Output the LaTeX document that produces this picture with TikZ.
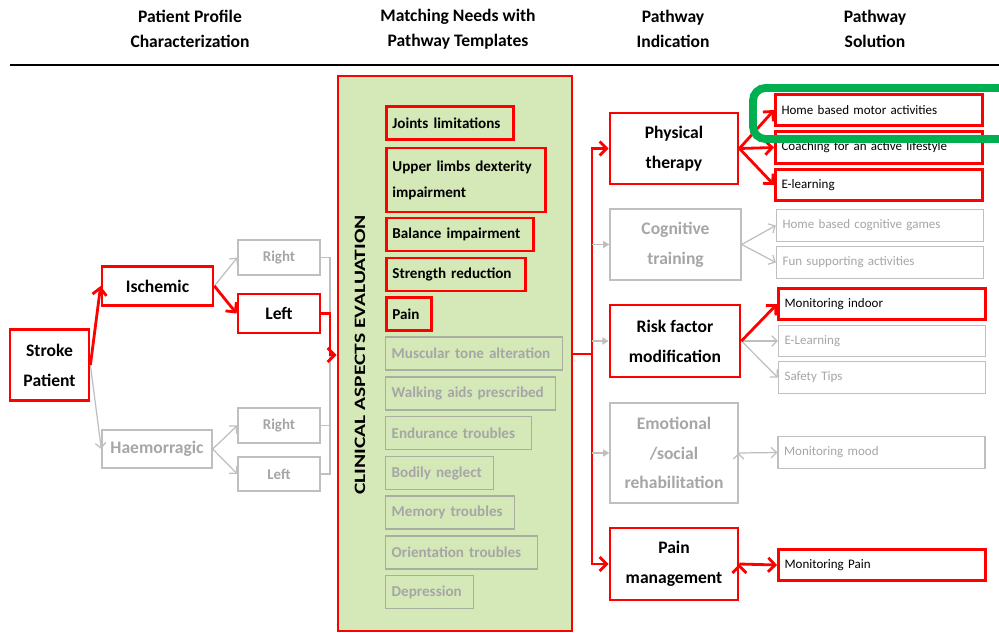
\documentclass[tikz,border=0pt]{standalone}
\usepackage{fontspec}
\setmainfont{Carlito}
\usetikzlibrary{arrows, arrows.meta, shapes}
\definecolor{hlgreen}{RGB}{0,176,80}
\definecolor{boxgreen}{RGB}{212,232,184}
\definecolor{boxgrey}{RGB}{191,191,191}
\definecolor{txtgrey}{RGB}{166,166,166}
\definecolor{itemgrey}{RGB}{168,175,160}
\hyphenpenalty=10000
\exhyphenpenalty=10000

\begin{document}
\begin{tikzpicture}[
    x=0.02cm, y=-0.02cm,
    header/.style={font=\bfseries\fontsize{10}{14.2}\selectfont, align=center},
    pathred/.style={shape=rectangle, draw=red, line width=1.6pt, fill=white, align=center, font=\bfseries\fontsize{10}{17}\selectfont},
    pathgrey/.style={pathred, draw=boxgrey, line width=0.8pt, text=txtgrey},
    itemred/.style={shape=rectangle, draw=red, line width=1.6pt, anchor=west, inner xsep=0.12cm, align=left, minimum height=0.66cm, font=\bfseries\fontsize{8.6}{14.8}\selectfont},
    itemgray/.style={itemred, draw=itemgrey, line width=0.8pt, text=txtgrey},
    solred/.style={shape=rectangle, draw=red, line width=1.6pt, fill=white, text width=3.9cm, inner xsep=0.12cm, minimum height=0.63cm, align=left, font=\fontsize{7.4}{9}\selectfont},
    solgrey/.style={solred, draw=boxgrey, line width=0.8pt, text=txtgrey},
    redline/.style={draw=red, line width=1.6pt},
    greyline/.style={draw=boxgrey, line width=0.7pt},
    redarrow/.style={redline, -{Straight Barb[length=4pt, width=8pt]}},
    greyarrow/.style={greyline, -{Straight Barb[length=3pt, width=6pt]}},
    busarrow/.style={greyline, -{Triangle[length=3.5pt, width=4pt]}},
]

\fill[white] (0,0) rectangle (999,632);
\useasboundingbox (0,0) rectangle (999,632);

% headers
\node[header] (h1) at (190,29) {Patient Profile\\Characterization};
\node[header] (h2) at (458,29) {Matching Needs with\\Pathway Templates};
\node[header] (h3) at (673,29) {Pathway\\Indication};
\node[header] (h4) at (875,29) {Pathway\\Solution};
\draw[line width=1.7pt] (10,65) -- (999,65);

% patient profile
\node[pathred, minimum width=1.58cm, minimum height=1.42cm] (sp) at (49.5,365) {Stroke\\Patient};
\node[pathred, minimum width=2.22cm, minimum height=0.78cm] (isc) at (157.5,286) {Ischemic};
\node[pathgrey, minimum width=2.2cm, minimum height=0.76cm] (hae) at (157,449) {Haemorragic};
\node[pathgrey, minimum width=1.64cm, minimum height=0.7cm, font=\bfseries\fontsize{8.5}{10}\selectfont] (ir) at (279,257.5) {Right};
\node[pathred, minimum width=1.64cm, minimum height=0.78cm] (il) at (279,313.5) {Left};
\node[pathgrey, minimum width=1.64cm, minimum height=0.7cm, font=\bfseries\fontsize{8.5}{10}\selectfont] (hr) at (279,425.5) {Right};
\node[pathgrey, minimum width=1.64cm, minimum height=0.68cm, font=\bfseries\fontsize{8.5}{10}\selectfont] (hl) at (279,474) {Left};

% clinical aspects
\node[shape=rectangle, draw=red, line width=1.6pt, fill=boxgreen, minimum width=4.68cm, minimum height=11.1cm] (clin) at (455,353.5) {};
\node[rotate=90, font=\bfseries\fontsize{9}{11}\selectfont] (cae) at (360,355) {\scalebox{1.36}[1]{CLINICAL ASPECTS EVALUATION}};
\node[itemred, text width=2.3cm] (j1) at (385,123) {Joints limitations};
\node[itemred, text width=2.94cm, minimum height=1.28cm] (j2) at (385,180) {Upper limbs dexterity\\impairment};
\node[itemred, text width=2.7cm] (j3) at (385,234.5) {Balance impairment};
\node[itemred, text width=2.54cm] (j4) at (385,274.5) {Strength reduction};
\node[itemred, text width=0.66cm] (j5) at (385,314) {Pain};
\node[itemgray, text width=3.3cm] (j6) at (385,353.5) {Muscular tone alteration};
\node[itemgray, text width=3.16cm] (j7) at (385,393.5) {Walking aids prescribed};
\node[itemgray, text width=2.68cm] (j8) at (385,433) {Endurance troubles};
\node[itemgray, text width=1.92cm] (j9) at (385,473) {Bodily neglect};
\node[itemgray, text width=2.34cm] (j10) at (385,512.5) {Memory troubles};
\node[itemgray, text width=2.8cm] (j11) at (385,552.5) {Orientation troubles};
\node[itemgray, text width=1.52cm] (j12) at (385,592) {Depression};

% pathway indication
\node[pathred, minimum width=2.56cm, minimum height=1.42cm] (pt) at (674,148.5) {Physical\\therapy};
\node[pathgrey, minimum width=2.62cm, minimum height=1.42cm] (ct) at (675.5,244.5) {Cognitive\\training};
\node[pathred, minimum width=2.6cm, minimum height=1.44cm] (rf) at (675,341) {Risk factor\\modification};
\node[pathgrey, minimum width=2.56cm, minimum height=2cm] (es) at (674,453) {Emotional\\/social\\rehabilitation};
\node[pathred, minimum width=2.56cm, minimum height=1.44cm] (pm) at (674,564) {Pain\\management};

% pathway solution
\node[solred] (s1) at (879,110) {Home based motor activities};
\node[solred] (s2) at (879,147.5) {Coaching for an active lifestyle};
\node[solred] (s3) at (879,185) {E-learning};
\node[solgrey] (s4) at (880,225.5) {Home based cognitive games};
\node[solgrey] (s5) at (880,262.5) {Fun supporting activities};
\node[solred] (s6) at (882,304) {Monitoring indoor};
\node[solgrey] (s7) at (882,341) {E-Learning};
\node[solgrey] (s8) at (882,377.5) {Safety Tips};
\node[solgrey] (s9) at (881.5,452.5) {Monitoring mood};
\node[solred] (s10) at (882,565) {Monitoring Pain};

\coordinate (lbus) at (330,355);
\coordinate (rbus) at (592,354);

\path[greyarrow]
    (sp.east) edge (hae.west)
    (isc.east) edge (ir.west)
    (hae.east) edge (hr.west)
    (hae.east) edge (hl.west)
    (ct.east) edge (s4.west)
    (ct.east) edge (s5.west)
    (rf.east) edge (s7.west)
    (rf.east) edge (s8.west)
    (es.east) edge (s9.west)
;
\draw[greyline] (ir.east) -| (lbus);
\draw[greyline] (hr.east) -| (lbus);
\draw[greyline] (hl.east) -| (lbus);

\path[redarrow]
    (sp.east) edge (isc.west)
    (isc.east) edge (il.west)
    (pt.east) edge (s1.west)
    (pt.east) edge (s2.west)
    (pt.east) edge (s3.west)
    (rf.east) edge (s6.west)
    (pm.east) edge (s10.west)
;
\draw[redarrow] (il.east) -| (lbus) -- (clin.west |- lbus);
\draw[redline] (clin.east |- rbus) -- (rbus);
\draw[redarrow] (rbus) |- (pt.west);
\draw[redarrow] (rbus) |- (pm.west);
\draw[busarrow] (rbus |- ct.west) -- (ct.west);
\draw[busarrow] (rbus |- rf.west) -- (rf.west);
\draw[busarrow] (rbus |- es.west) -- (es.west);

% highlight
\draw[hlgreen, line width=4.5pt, rounded corners=0.25cm] (1005,88) -- (753,88) -- (753,139) -- (1005,139);
\end{tikzpicture}
\end{document}
